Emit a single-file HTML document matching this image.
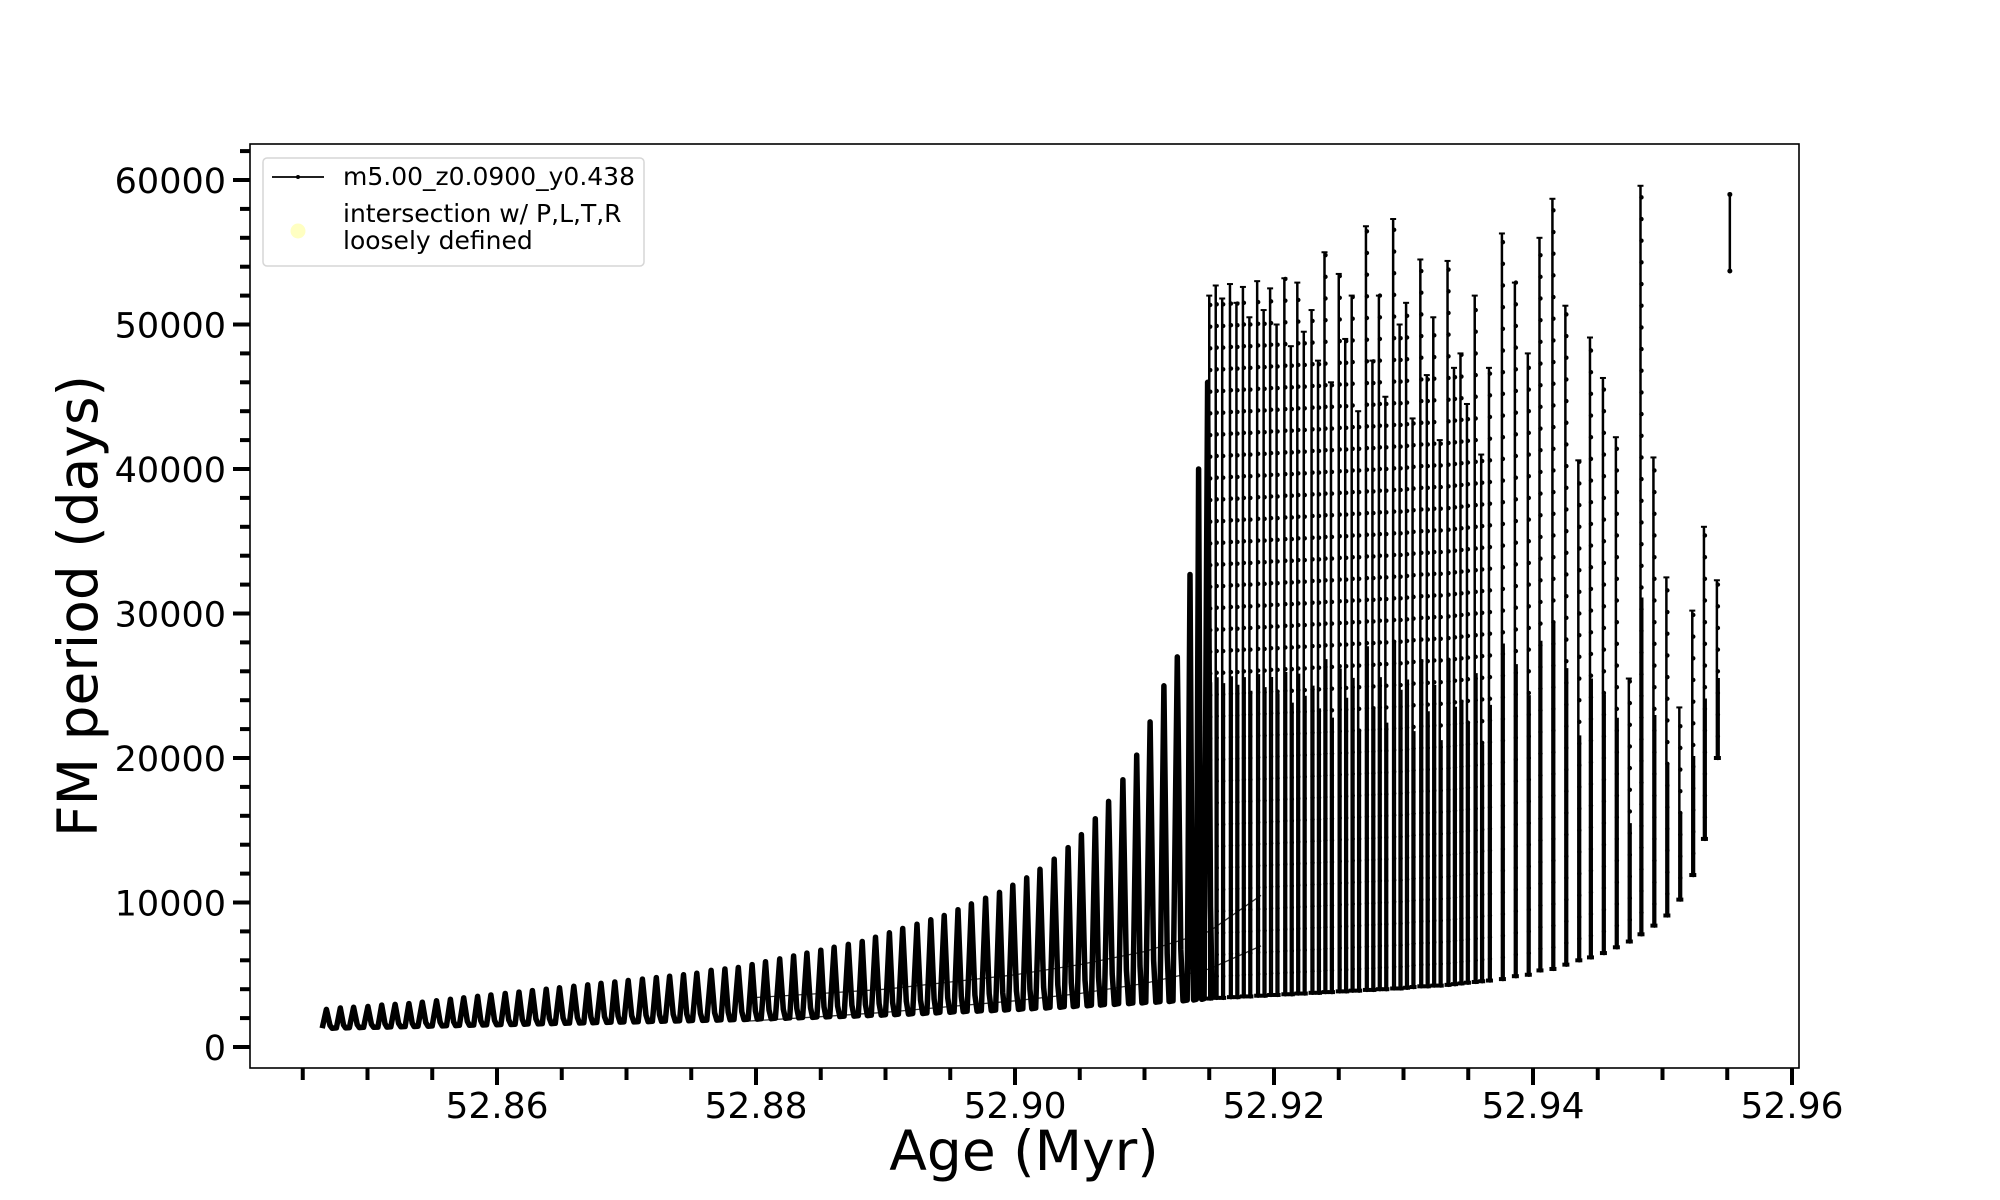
<!DOCTYPE html>
<html><head><meta charset="utf-8"><style>
html,body{margin:0;padding:0;background:#fff;}
svg{display:block;font-family:"DejaVu Sans","Liberation Sans",sans-serif;}
</style></head><body>
<svg id="chart" width="2000" height="1200" viewBox="0 0 2000 1200">
<g id="plot"></g>
<rect x="250" y="144" width="1549" height="924" fill="none" stroke="#000" stroke-width="1.6"/>
<g id="xticks"></g>
<g id="yticks"></g>
<text x="1024" y="1170" font-size="55" text-anchor="middle">Age (Myr)</text>
<text transform="translate(97,606) rotate(-90)" font-size="55" text-anchor="middle">FM period (days)</text>
<g>
<rect x="263" y="158" width="381" height="108" rx="4" fill="#fff" fill-opacity="0.8" stroke="#d6d6d6" stroke-width="1.5"/>
<line x1="272" y1="177" x2="324" y2="177" stroke="#000" stroke-width="1.8"/>
<circle cx="298" cy="177" r="2" fill="#000"/>
<text x="343" y="185" font-size="25">m5.00_z0.0900_y0.438</text>
<circle cx="298" cy="231" r="7.5" fill="#ffffb3" fill-opacity="0.8"/>
<text x="343" y="222" font-size="25">intersection w/ P,L,T,R</text>
<text x="343" y="249" font-size="25">loosely defined</text>
</g>
</svg>
<script>
const cycleAges=[52.8465,52.8476,52.8486,52.8497,52.8508,52.8518,52.8529,52.8539,52.8550,52.8561,52.8571,52.8582,52.8592,52.8603,52.8614,52.8624,52.8635,52.8645,52.8656,52.8667,52.8677,52.8688,52.8698,52.8709,52.8720,52.8730,52.8741,52.8751,52.8762,52.8773,52.8783,52.8794,52.8804,52.8815,52.8826,52.8836,52.8847,52.8857,52.8868,52.8879,52.8889,52.8900,52.8910,52.8921,52.8932,52.8942,52.8953,52.8963,52.8974,52.8985,52.8995,52.9006,52.9016,52.9027,52.9038,52.9048,52.9059,52.9069,52.9080,52.9091,52.9101,52.9112,52.9122,52.9133,52.9140,52.9146];
const cycleMax=[2600,2700,2750,2800,2900,2950,3000,3100,3200,3300,3400,3500,3600,3700,3800,3900,4000,4100,4200,4300,4400,4500,4600,4700,4800,4900,5000,5100,5300,5400,5500,5700,5900,6100,6300,6500,6700,6900,7100,7300,7600,7900,8200,8500,8800,9100,9500,9900,10300,10700,11200,11700,12300,13000,13800,14700,15800,17000,18500,20200,22500,25000,27000,32700,40000,46000];
const cycleMin=[1300,1320,1340,1360,1380,1400,1420,1440,1460,1480,1500,1520,1540,1560,1580,1600,1620,1640,1660,1680,1700,1720,1740,1760,1780,1800,1820,1840,1860,1880,1900,1930,1960,1990,2020,2050,2080,2110,2140,2170,2200,2240,2280,2320,2360,2400,2440,2480,2520,2560,2600,2650,2700,2750,2800,2850,2900,2950,3000,3050,3100,3150,3200,3250,3300,3350];
const spikeAges=[52.9155,52.9166,52.9176,52.9187,52.9197,52.9208,52.9218,52.9229,52.9239,52.9250,52.9260,52.9271,52.9281,52.9292,52.9302,52.9313,52.9323,52.9334,52.9344,52.9355,52.9366,52.9376,52.9386,52.9396,52.9405,52.9415,52.9425,52.9435,52.9444,52.9454,52.9464,52.9474,52.9483,52.9493,52.9503,52.9513,52.9523,52.9532,52.9542];
const spikeMax=[52700,52800,52600,53000,52500,53200,52900,51000,55000,53500,52000,56800,52000,57300,51500,54500,50500,54400,48000,52000,47000,56300,52900,48000,56000,58700,51300,40600,49100,46300,42200,25500,59600,40800,32500,23500,30200,36000,32300];
const spikeMin=[3400,3450,3500,3550,3600,3650,3700,3750,3800,3850,3900,3950,4000,4050,4100,4200,4250,4300,4400,4500,4600,4700,4900,5000,5300,5400,5700,6000,6200,6500,6900,7300,7800,8400,9100,10200,11900,14400,20000];
const midAges=[52.9150,52.9160,52.9171,52.9181,52.9192,52.9202,52.9213,52.9223,52.9234,52.9244,52.9255,52.9265,52.9276,52.9286,52.9297,52.9307,52.9318,52.9328,52.9339,52.9349,52.9360];
const midMax=[52000,51800,51500,50500,51000,50000,48500,49500,47500,46000,49000,44000,47500,45000,50000,43500,46500,42000,47000,44500,41000];
const midMin=[3350,3400,3450,3500,3550,3600,3650,3700,3750,3800,3850,3900,3950,4000,4050,4150,4200,4250,4350,4450,4550];
const lastAge=[52.9552];
const lastMin=[53700];
const lastMax=[59000];
const branchAges=[52.8795,52.885,52.890,52.895,52.900,52.905,52.910,52.915,52.919];
const branchLo=[1800,2100,2400,2800,3200,3700,4400,5400,7000];
const branchHi=[3400,3700,4000,4500,5000,5700,6600,8000,10500];
const xTicks=[52.86,52.88,52.90,52.92,52.94,52.96];
const xTickLabels=["52.86","52.88","52.90","52.92","52.94","52.96"];
const yTicks=[0,10000,20000,30000,40000,50000,60000];
const yTickLabels=["0","10000","20000","30000","40000","50000","60000"];

const NS="http://www.w3.org/2000/svg";
const X=v=>497+(v-52.86)*12950;
const Y=v=>1047-v*0.01445;
function mk(tag,parent,attrs){const e=document.createElementNS(NS,tag);for(const k in attrs)e.setAttribute(k,attrs[k]);parent.appendChild(e);return e;}
const plot=document.getElementById('plot');
[branchLo,branchHi].forEach((arr,j)=>{
 let d='';arr.forEach((v,i)=>{d+=(i?'L':'M')+X(branchAges[i]).toFixed(1)+' '+Y(v).toFixed(1);});
 const p=mk('path',plot,{d:d,fill:'none',stroke:'#333','stroke-width':1.3});
 
 
});
let d='';
for(let i=0;i<cycleAges.length;i++){
 const t=cycleAges[i];const nt=i+1<cycleAges.length?cycleAges[i+1]:spikeAges[0];const dt=nt-t;
 d+=(i?'L':'M')+X(t).toFixed(1)+' '+Y(cycleMin[i]).toFixed(1);
 d+='L'+X(t+dt*0.3).toFixed(1)+' '+Y(cycleMax[i]).toFixed(1);
 d+='L'+X(t+dt*0.55).toFixed(1)+' '+Y(cycleMin[i]+(cycleMax[i]-cycleMin[i])*0.15).toFixed(1);
 d+='L'+X(t+dt*0.7).toFixed(1)+' '+Y(cycleMin[i]).toFixed(1);
}
const early=mk('path',plot,{d:d,fill:'none',stroke:'#000','stroke-width':5.5,'stroke-linejoin':'round'});


function column(age,lo,hi,name){
 const x=X(age);
 const g=mk('g',plot,{});
 
 
 mk('line',g,{x1:x,y1:Y(lo),x2:x,y2:Y(hi),stroke:'#000','stroke-width':2.5});
 mk('line',g,{x1:x+2,y1:Y(lo),x2:x+2,y2:Y(lo+(hi-lo)*0.45),stroke:'#000','stroke-width':2});
 for(let v=lo;v<=hi;v+=1500){mk('circle',g,{cx:x+1,cy:Y(v),r:2.2,fill:'#000'});}
 mk('line',g,{x1:x-3,y1:Y(hi),x2:x+3,y2:Y(hi),stroke:'#000','stroke-width':2});
 mk('line',g,{x1:x-3,y1:Y(lo),x2:x+4,y2:Y(lo),stroke:'#000','stroke-width':4});
}
for(let i=0;i<midAges.length;i++) column(midAges[i],midMin[i],midMax[i],'spike-cycle-inner');
for(let i=0;i<spikeAges.length;i++) column(spikeAges[i],spikeMin[i],spikeMax[i],'spike-cycle');
for(let i=0;i<lastAge.length;i++){
 const x=X(lastAge[i]);
 const l=mk('line',plot,{x1:x,y1:Y(lastMin[i]),x2:x,y2:Y(lastMax[i]),stroke:'#000','stroke-width':2.5});
 
 
 mk('circle',plot,{cx:x,cy:Y(lastMin[i]),r:2.5,fill:'#000'});
 mk('circle',plot,{cx:x,cy:Y(lastMax[i]),r:2.5,fill:'#000'});
}
const xg=document.getElementById('xticks');
for(let m=52.845;m<52.9601;m+=0.005){mk('line',xg,{x1:X(m),y1:1068,x2:X(m),y2:1080,stroke:'#000','stroke-width':4});}
xTicks.forEach((v,i)=>{
 mk('line',xg,{x1:X(v),y1:1068,x2:X(v),y2:1085,stroke:'#000','stroke-width':4});
 const t=mk('text',xg,{x:X(v),y:1118,'font-size':36,'text-anchor':'middle'});t.textContent=xTickLabels[i];
 
 
});
const yg=document.getElementById('yticks');
for(let m=0;m<=62000;m+=2000){mk('line',yg,{x1:240,y1:Y(m),x2:250,y2:Y(m),stroke:'#000','stroke-width':4});}
yTicks.forEach((v,i)=>{
 mk('line',yg,{x1:233,y1:Y(v),x2:250,y2:Y(v),stroke:'#000','stroke-width':4});
 const t=mk('text',yg,{x:226,y:Y(v)+13,'font-size':35,'text-anchor':'end'});t.textContent=yTickLabels[i];
 
 
});
</script>
</body></html>
